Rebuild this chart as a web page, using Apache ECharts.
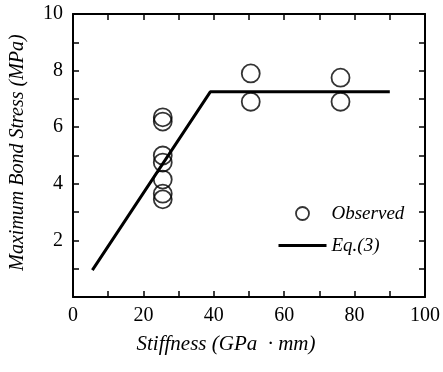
<!DOCTYPE html>
<html><head><meta charset="utf-8">
<script src="https://cdn.jsdelivr.net/npm/echarts@6/dist/echarts.min.js"></script>
<style>html,body{margin:0;padding:0;background:#fff}#c{width:443px;height:372px}</style>
</head><body><div id="c"></div>
<script>
const obsX = [25.5, 25.5, 25.5, 25.5, 25.5, 25.5, 25.5, 50.5, 50.5, 76, 76];
const obsY = [6.35, 6.2, 5.0, 4.75, 4.15, 3.65, 3.45, 7.9, 6.9, 7.75, 6.9];
const eqX = [5.5, 39, 90];
const eqY = [0.95, 7.25, 7.25];
const xTicks = [0, 20, 40, 60, 80, 100];
const yTicks = [2, 4, 6, 8, 10];

const font = 'Liberation Serif';
const chart = echarts.init(document.getElementById('c'));
const axisCommon = {
  axisLine: {show: true, onZero: false, lineStyle: {color: '#000', width: 2}},
  axisTick: {show: true, inside: true, length: 6, lineStyle: {color: '#000', width: 1.5}},
  minorTick: {show: true, splitNumber: 2, length: 6, lineStyle: {color: '#000', width: 1.5}},
  splitLine: {show: false}
};
chart.setOption({
  animation: false,
  grid: {left: 73, right: 16, top: 14, bottom: 75},
  legend: {
    orient: 'vertical', left: 272, top: 199, itemGap: 13,
    itemWidth: 48, itemHeight: 13,
    textStyle: {fontFamily: font, fontStyle: 'italic', fontSize: 19, color: '#000'},
    data: [
      {name: 'Observed', itemStyle: {borderWidth: 1.8, borderColor: '#000', color: 'rgba(255,255,255,0)'}},
      {name: 'Eq.(3)', itemStyle: {opacity: 0}, lineStyle: {color: '#000', width: 3}}
    ]
  },
  xAxis: [
    Object.assign({type: 'value', min: 0, max: 100, interval: 20,
      axisLabel: {show: true, fontFamily: font, fontSize: 20, color: '#000', margin: 9,
        formatter: v => xTicks.includes(v) ? String(v) : ''},
      name: 'Stiffness (GPa  · mm)', nameLocation: 'middle', nameGap: 37,
      nameTextStyle: {fontFamily: font, fontStyle: 'italic', fontSize: 21, color: '#000', padding: [0, 46, 0, 0]}
    }, axisCommon),
    Object.assign({type: 'value', position: 'top', min: 0, max: 100, interval: 20,
      axisLabel: {show: false}}, axisCommon)
  ],
  yAxis: [
    Object.assign({type: 'value', min: 0, max: 10, interval: 2,
      axisLabel: {show: true, fontFamily: font, fontSize: 20, color: '#000', margin: 10,
        formatter: v => yTicks.includes(v) ? String(v) : ''},
      name: 'Maximum Bond Stress (MPa)', nameLocation: 'middle', nameGap: 45,
      nameTextStyle: {fontFamily: font, fontStyle: 'italic', fontSize: 20, color: '#000', padding: [0, 0, 0, 6]}
    }, axisCommon),
    Object.assign({type: 'value', position: 'right', min: 0, max: 10, interval: 2,
      axisLabel: {show: false}}, axisCommon)
  ],
  series: [
    {
      name: 'Observed', type: 'scatter', symbol: 'circle', symbolSize: 18,
      itemStyle: {color: 'rgba(255,255,255,0)', borderColor: '#000', borderWidth: 1.8},
      data: obsX.map((x, i) => [x, obsY[i]]), z: 3
    },
    {
      name: 'Eq.(3)', type: 'line', symbol: 'none',
      itemStyle: {color: '#000'},
      lineStyle: {color: '#000', width: 3},
      data: eqX.map((x, i) => [x, eqY[i]]), z: 2
    }
  ]
});
</script></body></html>
